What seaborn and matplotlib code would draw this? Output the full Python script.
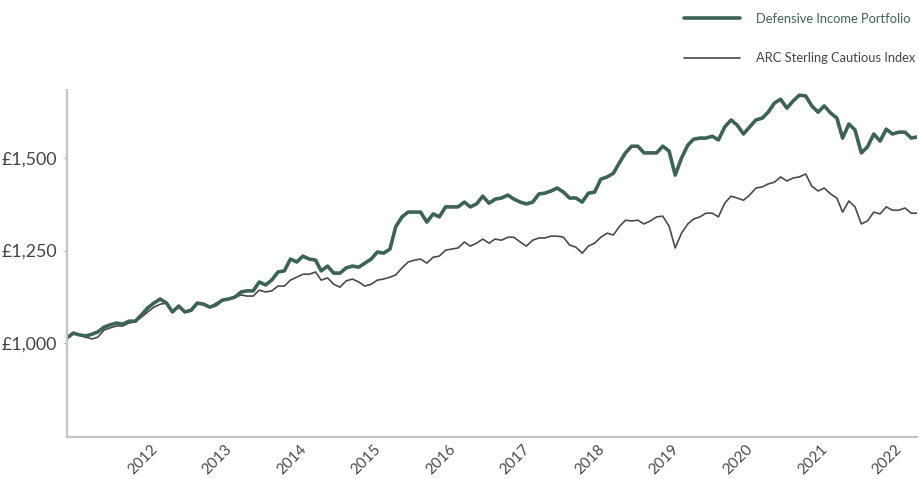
import numpy as np
import pandas as pd
import matplotlib
matplotlib.use("Agg")
import matplotlib.pyplot as plt
import matplotlib.dates as mdates
from matplotlib.ticker import FuncFormatter, FixedLocator
import seaborn as sns

# monthly values of £1,000 invested, Oct 2010 - Mar 2022
start_month = "2010-10-01"

portfolio = [
    1014, 1027, 1022, 1019, 1024, 1030, 1043, 1049, 1054, 1051, 1059, 1059,
    1076, 1095, 1108, 1119, 1108, 1084, 1100, 1084, 1089, 1108, 1105, 1097,
    1103, 1116, 1119, 1124, 1138, 1141, 1141, 1165, 1157, 1170, 1192, 1195,
    1227, 1219, 1235, 1227, 1224, 1195, 1208, 1189, 1189, 1203, 1208,
    1205, 1216, 1227, 1246, 1243, 1254, 1314, 1341, 1354, 1354, 1354, 1327,
    1349, 1341, 1368, 1368, 1368, 1381, 1368, 1376, 1397, 1378, 1389,
    1392, 1400, 1389, 1381, 1376, 1381, 1403, 1405, 1411, 1419, 1408, 1392,
    1392, 1381, 1405, 1408, 1443, 1449, 1459, 1486, 1514, 1532, 1532, 1514,
    1514, 1514, 1532, 1519, 1454, 1500, 1535, 1551, 1554, 1554, 1559, 1549,
    1584, 1603, 1589, 1565, 1584, 1603, 1608, 1624, 1649, 1659, 1635, 1654,
    1670, 1668, 1641, 1624, 1641, 1622, 1608, 1554, 1592, 1576, 1514, 1530,
    1565, 1546, 1578, 1565, 1570, 1570, 1554, 1557,
]

benchmark = [
    1014, 1024, 1022, 1016, 1011, 1016, 1035, 1041, 1046, 1046, 1054, 1057,
    1070, 1084, 1097, 1105, 1108, 1086, 1097, 1084, 1086, 1105, 1105, 1097,
    1108, 1116, 1119, 1124, 1130, 1127, 1127, 1143, 1138, 1141, 1154, 1154,
    1170, 1178, 1186, 1186, 1192, 1170, 1176, 1159, 1151, 1168, 1173,
    1165, 1154, 1159, 1170, 1173, 1178, 1184, 1203, 1219, 1224, 1227, 1216,
    1232, 1235, 1251, 1254, 1257, 1273, 1262, 1270, 1281, 1270, 1281,
    1278, 1286, 1286, 1273, 1262, 1278, 1284, 1284, 1289, 1289, 1286, 1265,
    1259, 1243, 1262, 1270, 1286, 1297, 1292, 1314, 1332, 1330, 1332, 1322,
    1330, 1341, 1343, 1316, 1257, 1297, 1322, 1335, 1341, 1351, 1351, 1341,
    1378, 1397, 1392, 1386, 1400, 1419, 1422, 1430, 1435, 1449, 1438, 1446,
    1449, 1457, 1424, 1411, 1419, 1403, 1392, 1354, 1384, 1368, 1322, 1330,
    1354, 1349, 1368, 1359, 1359, 1365, 1351, 1351,
]

series_names = ["Defensive Income Portfolio", "ARC Sterling Cautious Index"]
years = [2012, 2013, 2014, 2015, 2016, 2017, 2018, 2019, 2020, 2021, 2022]
y_ticks = [1000, 1250, 1500]

GREEN = "#3d6452"
GREY = "#4a4a4a"
AXIS = "#c4c4c4"

dates = pd.date_range(start_month, periods=len(portfolio), freq="MS")
df = pd.DataFrame({"date": dates, "portfolio": portfolio, "benchmark": benchmark})

sns.set_style("white")
plt.rcParams["font.family"] = ["Lato", "DejaVu Sans"]

fig = plt.figure(figsize=(9.19, 4.79), dpi=100)
ax = fig.add_axes([67 / 919, 42 / 479, 850 / 919, 347 / 479])

sns.lineplot(data=df, x="date", y="benchmark", ax=ax, color=GREY, linewidth=1.2,
             label=series_names[1])
sns.lineplot(data=df, x="date", y="portfolio", ax=ax, color=GREEN, linewidth=2.6,
             label=series_names[0])

ax.set_xlim(dates[0], dates[-1])
ax.set_ylim(746, 1684)
ax.set_xlabel("")
ax.set_ylabel("")

ax.xaxis.set_major_locator(FixedLocator(
    [mdates.date2num(pd.Timestamp(f"{y}-01-01")) for y in years]))
ax.xaxis.set_major_formatter(mdates.DateFormatter("%Y"))
ax.yaxis.set_major_locator(FixedLocator(y_ticks))
ax.yaxis.set_major_formatter(FuncFormatter(lambda v, _: f"£{v:,.0f}"))

for lbl in ax.get_xticklabels():
    lbl.set_rotation(45)
    lbl.set_ha("right")
ax.tick_params(axis="x", length=0, labelsize=11, colors="#4a4a4a", pad=4)
ax.tick_params(axis="y", length=3, width=1, color=AXIS, labelsize=12.8,
               labelcolor="#444444", pad=4, left=True)

for side in ["top", "right"]:
    ax.spines[side].set_visible(False)
for side in ["left", "bottom"]:
    ax.spines[side].set_color(AXIS)
    ax.spines[side].set_linewidth(1.6)

handles, labels = ax.get_legend_handles_labels()
leg = fig.legend(handles[::-1], labels[::-1], loc="upper left",
                 bbox_to_anchor=(684 / 919, 1 - 13 / 479), frameon=False,
                 fontsize=9.3, handlelength=4.3, handletextpad=1.25,
                 labelspacing=2.1, borderpad=0, borderaxespad=0)
leg.get_texts()[0].set_color(GREEN)
leg.get_texts()[1].set_color("#444444")
ax.get_legend().remove()

fig.savefig("out.png", dpi=100)
